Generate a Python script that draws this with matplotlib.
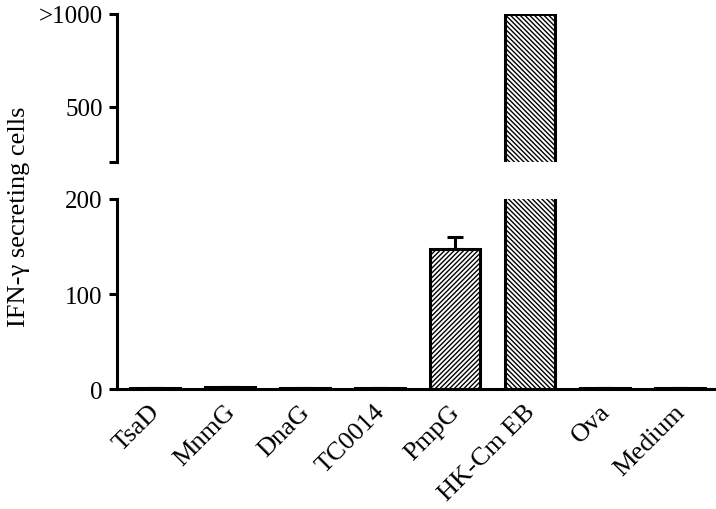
import matplotlib
matplotlib.use("Agg")
from matplotlib import pyplot as plt
from matplotlib.transforms import ScaledTranslation

plt.rcParams['font.family'] = ['Liberation Serif', 'DejaVu Serif']
plt.rcParams['hatch.linewidth'] = 1.0

categories = ['TsaD', 'MnmG', 'DnaG', 'TC0014', 'PmpG', 'HK-Cm EB', 'Ova', 'Medium']
values = [1, 2, 1.5, 1.5, 147, 1000, 1, 1]
errors_up = [0, 0, 0, 0, 13, 0, 0, 0]
hatches = ['', '', '', '', '///////', '\\\\\\\\\\\\\\', '', '']

fig = plt.figure(figsize=(7.16, 5.1), dpi=100)
ax_low = fig.add_axes([0.163, 0.235, 0.837, 0.373])
ax_high = fig.add_axes([0.163, 0.680, 0.837, 0.291])

x = list(range(len(categories)))
lw = 2.2

for ax in (ax_low, ax_high):
    for i, (v, h) in enumerate(zip(values, hatches)):
        ax.bar(i, v, width=0.67, facecolor='white', edgecolor='black',
               linewidth=lw, hatch=h, zorder=2)
    ax.set_xlim(-0.507, 7.48)
    for s in ('top', 'right'):
        ax.spines[s].set_visible(False)
    ax.spines['left'].set_linewidth(lw)
    ax.spines['bottom'].set_linewidth(lw)
    ax.tick_params(axis='y', length=6, width=lw, labelsize=18, pad=4)

# error bar on the lower panel
ax_low.errorbar(x, values, yerr=[[0] * len(x), errors_up], fmt='none',
                ecolor='black', elinewidth=lw, capsize=6, capthick=lw, zorder=1)

ax_low.set_ylim(0, 200)
ax_low.set_yticks([0, 100, 200])
ax_low.set_xticks(x)
ax_low.set_xticklabels(categories, rotation=45, ha='right', rotation_mode='anchor',
                       fontsize=19)
ax_low.tick_params(axis='x', length=0, pad=8)
shift = ScaledTranslation(-0.06, 0, fig.dpi_scale_trans)
for lab in ax_low.get_xticklabels():
    lab.set_transform(lab.get_transform() + shift)

ax_high.set_ylim(200, 1000)
ax_high.set_yticks([200, 500, 1000])
ax_high.set_yticklabels(['', '500', '>1000'])
ax_high.spines['bottom'].set_visible(False)
ax_high.set_xticks([])

fig.text(0.026, 0.575, 'IFN-γ secreting cells', rotation=90, ha='center',
         va='center', fontsize=19)

fig.savefig('out.png', dpi=100)
